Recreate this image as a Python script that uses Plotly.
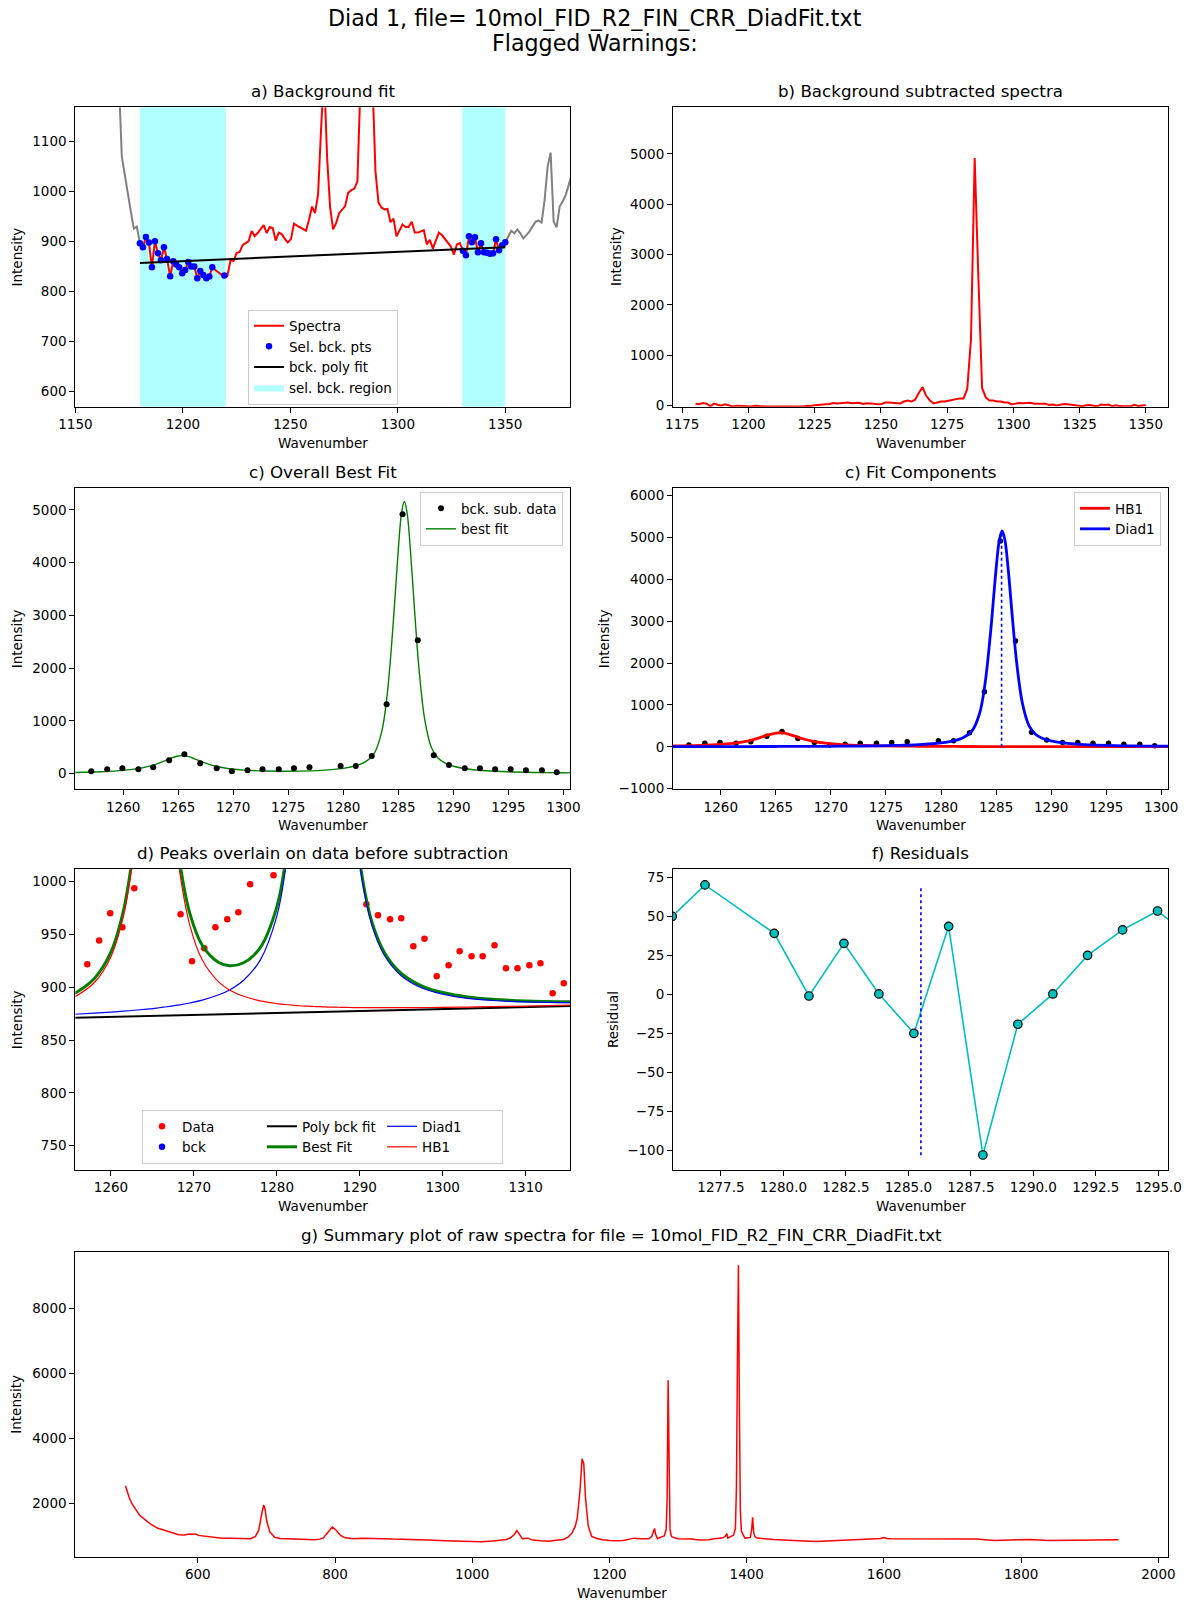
import plotly.graph_objects as go

FONT = "DejaVu Sans"
FIG_W, FIG_H = 1189, 1605
TICK_SIZE = 13.5
TITLE_SIZE = 16.7

# ---------------- a) Background fit ----------------
wn_a = [1180.0, 1181.4, 1182.8, 1184.2, 1185.6, 1187.0, 1188.4, 1189.8, 1191.2, 1192.6,
        1194.1, 1195.5, 1196.9, 1198.3, 1199.7, 1201.1, 1202.5, 1203.9, 1205.3, 1206.7,
        1208.1, 1209.5, 1210.9, 1212.3, 1213.7, 1215.1, 1216.5, 1217.9, 1219.3, 1220.7,
        1222.2, 1223.6, 1225.0, 1226.4, 1227.8, 1229.2, 1230.6, 1232.0, 1233.4, 1234.8,
        1236.2, 1237.6, 1239.0, 1240.4, 1241.8, 1243.2, 1244.6, 1246.0, 1247.4, 1248.8,
        1250.3, 1251.7, 1253.1, 1254.5, 1255.9, 1257.3, 1258.7, 1260.1, 1261.5, 1262.9,
        1264.3, 1265.7, 1267.1, 1268.5, 1269.9, 1271.3, 1272.7, 1274.1, 1275.5, 1276.9,
        1278.4, 1279.8, 1281.2, 1282.6, 1284.0, 1285.4, 1286.8, 1288.2, 1289.6, 1291.0,
        1292.4, 1293.8, 1295.2, 1296.6, 1298.0, 1299.4, 1300.8, 1302.2, 1303.6, 1305.0,
        1306.5, 1307.9, 1309.3, 1310.7, 1312.1, 1313.5, 1314.9, 1316.3, 1317.7, 1319.1,
        1320.5, 1321.9, 1323.3, 1324.7, 1326.1, 1327.5, 1328.9, 1330.3, 1331.7, 1333.1,
        1334.5, 1335.9, 1337.3, 1338.7, 1340.1, 1341.5, 1342.9, 1344.3, 1345.7, 1347.1,
        1348.6, 1350.0]
raw_a = [896.7, 888.7, 909.3, 898.0, 848.7, 900.7, 876.7, 862.7, 888.7, 865.3,
         830.7, 860.7, 854.0, 848.7, 836.7, 843.3, 859.3, 850.0, 850.0, 826.7,
         841.3, 833.3, 826.7, 830.0, 848.7, 843.0, 838.0, 834.0, 832.0, 831.0,
         863.0, 861.0, 877.0, 879.0, 893.0, 897.0, 901.0, 921.0, 911.0, 917.0,
         924.0, 933.0, 917.0, 929.0, 927.0, 902.0, 918.0, 915.0, 906.0, 898.0,
         905.0, 936.0, 932.0, 928.0, 924.0, 921.7, 944.4, 970.0, 956.8, 993.7,
         1125, 1240, 1069, 969.1, 924.6, 936.9, 956.8, 964.3, 971.0, 997.5,
         1003, 1006, 1020.5, 1211, 2191, 5794, 3404, 1225, 1041, 978.5,
         968.1, 964.3, 965.3, 938.8, 946.0, 910.4, 920.8, 934.0, 929.3, 929.3,
         939.7, 917.9, 917.9, 920.8, 922.7, 894.3, 903.7, 886.0, 903.0, 918.0,
         913.0, 905.0, 896.0, 890.0, 874.0, 894.0, 897.0, 881.8, 872.5, 910.5,
         898.5, 908.5, 878.5, 896.5, 878.5, 877.8, 875.8, 876.5, 904.5, 882.5,
         892.5, 898.5]
gray_left_x = [1167.4, 1168.8, 1170.2, 1171.6, 1173.0, 1174.4, 1175.8, 1177.2, 1178.6, 1180.0]
gray_left_y = [1380, 1300, 1224, 1070, 1030, 1000, 960, 926, 930, 896.7]
gray_right_x = [1350.0, 1351.4, 1352.8, 1354.2, 1355.6, 1357.0, 1358.4, 1359.8, 1361.2, 1362.6,
                1364.1, 1365.5, 1366.9, 1368.3, 1369.7, 1371.1, 1372.5, 1373.9, 1375.3, 1376.7,
                1378.1, 1379.5, 1380.9]
gray_right_y = [898.5, 909.7, 921.7, 916.5, 924.5, 916.5, 906.5, 913.0, 919.8, 929.9,
                939.8, 941.9, 937.9, 983.0, 1050.0, 1078.0, 940.0, 928.6, 970.0, 980.0,
                993.0, 1013.0, 1035.0]
bck_regions = [(1180, 1220), (1330, 1350)]
bck_idx = list(range(0, 25)) + [28] + list(range(107, 122))
poly_x = [1180, 1350]
poly_y = [857.3, 888.6]

# ---------------- b) Background subtracted ----------------
bsub_a = [39, 31, 51, 40, -10, 42, 18, 4, 29, 6,
          -15, 1, -6, -12, -15, -15, -2, -12, -12, -18,
          -15, -15, -18, -17, -15, -15, -15, -15, -16, -17,
          -2, -4, 11, 13, 27, 31, 34, 54, 44, 50,
          56, 65, 49, 61, 58, 33, 49, 46, 36, 28,
          35, 65, 61, 57, 53, 44, 82, 101, 82, 120,
          253, 367, 196, 101, 44, 63, 82, 82, 101, 120,
          128, 145, 145, 335, 1315, 4918, 2528, 348, 164, 101,
          101, 82, 82, 63, 63, 25, 41, 54, 49, 49,
          59, 37, 37, 39, 41, 12, 22, 4, 20, 35,
          30, 22, 12, 6, -10, 10, 12, -3, -13, 25,
          13, 22, -8, 10, -8, -9, -12, -11, 17, -6,
          4, 10]

# ---------------- c) Best fit / components ----------------
c_x = [1257.1, 1258.55, 1259.93, 1261.38, 1262.73, 1264.18, 1265.56, 1267.0, 1268.5, 1269.88,
       1271.3, 1272.66, 1274.14, 1275.52, 1276.93, 1279.76, 1281.14, 1282.59, 1283.94, 1285.39,
       1286.77, 1288.22, 1289.6, 1291.04, 1292.42, 1293.8, 1295.21, 1296.6, 1298.05, 1299.4]
c_y = [44, 82, 101, 82, 120, 253, 367, 196, 101, 44,
       63, 82, 82, 101, 120, 145, 145, 335, 1315, 4918,
       2528, 348, 164, 101, 101, 82, 82, 63, 63, 25]
fit_x = [1255.5, 1258, 1260, 1261.5, 1262.5, 1263.5, 1264.3, 1265.0, 1265.4, 1265.8,
         1266.5, 1267.3, 1268.3, 1269.5, 1271, 1273, 1274.3, 1276, 1278, 1280,
         1281, 1282, 1282.8, 1283.5, 1284.0, 1284.5, 1285.0, 1285.3, 1285.55, 1285.8,
         1286.1, 1286.5, 1286.9, 1287.4, 1288.0, 1288.6, 1289.3, 1290.2, 1291.5, 1293,
         1295, 1297.5, 1300, 1303, 1306, 1310, 1316]
hb1_fit = [19.1, 32.8, 57.0, 95.0, 140.6, 211.7, 282.1, 328.2, 334.9, 323.9,
           273.5, 203.4, 135.0, 85.1, 52.0, 30.5, 22.9, 16.5, 11.9, 8.9,
           7.8, 6.9, 6.3, 5.9, 5.6, 5.3, 5.0, 4.9, 4.8, 4.6,
           4.5, 4.3, 4.2, 4.0, 3.8, 3.6, 3.4, 3.2, 2.9, 2.6,
           2.2, 1.9, 1.6, 1.4, 1.2, 1.0, 0.8]
diad1_fit = [3.2, 3.9, 4.5, 5.1, 5.5, 6.0, 6.5, 6.9, 7.2, 7.5,
             8.1, 8.8, 9.8, 11.3, 13.8, 18.5, 22.9, 31.7, 50.4, 91.6,
             133.8, 214.5, 372, 795, 1513, 2732, 4241, 4941, 5155, 4941,
             4241, 3027, 1941, 1027, 498, 293, 193, 128, 80.1, 51.7,
             32.4, 20.4, 14.0, 9.6, 7.0, 4.9, 3.2]
best_fit = [22.3, 36.7, 61.5, 100.1, 146.1, 217.7, 288.6, 335.1, 342.1, 331.4,
            281.6, 212.2, 144.8, 96.4, 65.8, 49.0, 45.8, 48.2, 62.3, 100.5,
            141.6, 221.4, 378.3, 800.9, 1518.6, 2737.3, 4246.0, 4945.9, 5159.8, 4945.6,
            4245.5, 3031.3, 1945.2, 1031.0, 501.8, 296.6, 196.4, 131.2, 83.0, 54.3,
            34.6, 22.3, 15.6, 11.0, 8.2, 5.9, 4.0]
peak_pos = 1285.5
peak_height = 5155

# ---------------- d) Peaks on raw data ----------------
d_x = [1257.14, 1258.57, 1259.91, 1261.38, 1262.81, 1264.2, 1265.6, 1267.0, 1268.39, 1269.77,
       1271.25, 1272.59, 1274.02, 1275.36, 1276.78, 1279.6, 1281.0, 1282.4, 1283.8, 1285.2,
       1286.6, 1288.0, 1289.4, 1290.8, 1292.2, 1293.66, 1295.0, 1296.46, 1297.8, 1299.28,
       1300.71, 1302.05, 1303.48, 1304.82, 1306.25, 1307.63, 1309.02, 1310.45, 1311.79, 1313.26,
       1314.6]
d_y = [921.7, 944.4, 970.0, 956.8, 993.7, 1125, 1240, 1069, 969.1, 924.6,
       936.9, 956.8, 964.3, 971.0, 997.5, 1006.0, 1020.5, 1211, 2191, 5794,
       3404, 1225, 1041, 978.5, 968.1, 964.3, 965.3, 938.8, 946.0, 910.4,
       920.8, 934.0, 929.3, 929.3, 939.7, 917.9, 917.9, 920.8, 922.7, 894.3,
       903.7]
hb1_raw = [890.3, 904.5, 929.0, 967.3, 1013.1, 1084.4, 1154.9, 1201.1, 1207.9, 1197.0,
           1146.7, 1076.8, 1008.5, 958.9, 926.0, 904.9, 897.5, 891.5, 887.2, 884.6,
           883.7, 883.0, 882.5, 882.2, 882.0, 881.8, 881.6, 881.6, 881.5, 881.4,
           881.3, 881.2, 881.2, 881.1, 881.0, 880.9, 880.8, 880.8, 880.7, 880.7,
           880.7, 880.8, 881.0, 881.3, 881.7, 882.2, 883.1]
diad1_raw = [874.4, 875.6, 876.5, 877.4, 878.0, 878.7, 879.3, 879.8, 880.2, 880.6,
             881.3, 882.2, 883.3, 885.1, 887.8, 892.9, 897.5, 906.7, 925.7, 967.3,
             1009.7, 1090.6, 1248.2, 1671.3, 2389.4, 3608.5, 5117.6, 5817.7, 6031.7, 5817.8,
             5117.8, 3903.9, 2818.0, 1904.1, 1375.2, 1170.3, 1070.4, 1005.6, 957.9, 929.8,
             910.9, 899.3, 893.4, 889.5, 887.5, 886.1, 885.5]
best_raw = [893.5, 908.4, 933.5, 972.4, 1018.6, 1090.4, 1161.4, 1208.0, 1215.1, 1204.5,
            1154.8, 1085.6, 1018.3, 970.2, 939.8, 923.4, 920.4, 923.2, 937.6, 976.2,
            1017.5, 1097.5, 1254.5, 1677.2, 2395.0, 3613.8, 5122.6, 5822.6, 6036.5, 5822.4,
            5122.3, 3908.2, 2822.2, 1908.1, 1379.0, 1173.9, 1073.8, 1008.8, 960.8, 932.4,
            913.1, 901.2, 895.0, 890.9, 888.7, 887.1, 886.3]
poly_d_x = [1255.5, 1316]
poly_d_y = [871.2, 882.3]

# ---------------- f) Residuals ----------------
res_x = [1275.55, 1276.86, 1279.63, 1281.02, 1282.42, 1283.82, 1285.22, 1286.61, 1287.98,
         1289.38, 1290.78, 1292.17, 1293.57, 1294.97, 1296.37]
res_y = [50.0, 70.1, 39.1, -1.0, 32.7, 0.3, -24.9, 43.6, -102.8,
         -19.1, 0.3, 25.0, 41.3, 53.4, 36.0]
res_vline_y = [-103, 68]

# ---------------- g) Raw summary ----------------
g_x = [494.5, 497, 500, 504, 509, 515, 523, 532, 541, 552, 562, 572, 580, 588, 593, 597, 601,
       614, 625, 635, 648, 660, 670, 677, 684, 689, 693, 696, 698, 700.5, 705, 712, 720, 730,
       745, 760, 770, 778, 783, 790, 796, 801, 808, 815, 827, 840, 858, 870, 884, 900, 920,
       936, 960, 987, 1000, 1013, 1030, 1040, 1050, 1055, 1061, 1065, 1068, 1073, 1081, 1088,
       1100, 1112, 1125, 1133, 1140, 1145.5, 1150, 1153, 1157, 1160, 1162.5, 1165, 1169, 1174,
       1182, 1190, 1200, 1210, 1220, 1229, 1236, 1245, 1257, 1261.5, 1264.3, 1265.7, 1267.1,
       1269.9, 1274, 1279.8, 1282.6, 1284.0, 1285.4, 1286.8, 1288.2, 1289.6, 1291, 1300, 1310,
       1320, 1330, 1345.5, 1352, 1364, 1368.3, 1369.7, 1371.1, 1372.5, 1376.6, 1380.9, 1383.5,
       1385.0, 1386.5, 1387.9, 1389.3, 1390.7, 1392.2, 1397.4, 1405.2, 1407.2, 1408.6, 1410.2,
       1412, 1415.6, 1439, 1460, 1475, 1501, 1527, 1553, 1579, 1595, 1600, 1604, 1610, 1631,
       1657, 1683, 1709, 1735, 1761, 1787, 1813, 1839, 1865, 1891, 1917, 1942]
g_y = [2550, 2380, 2190, 2000, 1830, 1650, 1510, 1360, 1250, 1170, 1100, 1045, 1040, 1070, 1060,
       1070, 1025, 985, 960, 940, 935, 925, 920, 925, 990, 1200, 1670, 1960, 1830, 1460, 1130,
       965, 930, 920, 905, 895, 890, 910, 945, 1130, 1285, 1200, 1025, 950, 920, 935, 940, 925,
       910, 905, 890, 880, 860, 840, 830, 828, 850, 870, 900, 945, 1045, 1170, 1070, 925, 940,
       880, 860, 848, 880, 900, 980, 1100, 1300, 1560, 2390, 3380, 3230, 2190, 1310, 995, 930,
       890, 870, 858, 870, 920, 940, 920, 921, 990, 1125, 1240, 1069, 925, 964, 1006, 1211,
       2191, 5794, 3404, 1225, 1041, 978, 921, 921, 912, 882, 889, 923, 942, 985, 1050, 1078,
       940, 985, 1035, 1250, 2500, 6500, 9330, 5000, 1800, 1150, 941, 962, 1200, 1580, 1100,
       980, 941, 900, 870, 858, 838, 858, 889, 910, 930, 962, 930, 921, 921, 921, 900, 900, 910,
       869, 879, 900, 869, 879, 889, 900, 889]

FILE_NAME = "10mol_FID_R2_FIN_CRR_DiadFit.txt"

# ---------------- layout geometry ----------------
def px(v):
    return v / FIG_W


def py(v):
    return 1 - v / FIG_H


COL1 = (75.4, 570.4)
COL2 = (673.0, 1168.3)
FULL = (75.4, 1168.3)
ROWS = [(107.3, 406.7), (488.3, 789.3), (869.3, 1170.0), (1251.5, 1557.0)]

panels = {
    1: dict(col=COL1, row=ROWS[0], xr=[1150, 1380.3], yr=[569.4, 1168.8],
            xt=[1150, 1200, 1250, 1300, 1350], yt=[600, 700, 800, 900, 1000, 1100],
            title="a) Background fit", ylab="Intensity", ylx=16.5),
    2: dict(col=COL2, row=ROWS[0], xr=[1171.5, 1358.5], yr=[-20, 5925],
            xt=[1175, 1200, 1225, 1250, 1275, 1300, 1325, 1350], yt=[0, 1000, 2000, 3000, 4000, 5000],
            title="b) Background subtracted spectra", ylab="Intensity", ylx=616),
    3: dict(col=COL1, row=ROWS[1], xr=[1255.66, 1300.64], yr=[-297, 5411],
            xt=[1260, 1265, 1270, 1275, 1280, 1285, 1290, 1295, 1300], yt=[0, 1000, 2000, 3000, 4000, 5000],
            title="c) Overall Best Fit", ylab="Intensity", ylx=16.5),
    4: dict(col=COL2, row=ROWS[1], xr=[1255.66, 1300.64], yr=[-1016, 6175],
            xt=[1260, 1265, 1270, 1275, 1280, 1285, 1290, 1295, 1300],
            yt=[-1000, 0, 1000, 2000, 3000, 4000, 5000, 6000],
            title="c) Fit Components", ylab="Intensity", ylx=603.5),
    5: dict(col=COL1, row=ROWS[2], xr=[1255.71, 1315.4], yr=[727, 1011.7],
            xt=[1260, 1270, 1280, 1290, 1300, 1310], yt=[750, 800, 850, 900, 950, 1000],
            title="d) Peaks overlain on data before subtraction", ylab="Intensity", ylx=16.5),
    6: dict(col=COL2, row=ROWS[2], xr=[1275.58, 1295.40], yr=[-112.4, 80.1],
            xt=[1277.5, 1280, 1282.5, 1285, 1287.5, 1290, 1292.5, 1295],
            yt=[-100, -75, -50, -25, 0, 25, 50, 75],
            title="f) Residuals", ylab="Residual", ylx=612.4, xfmt=".1f"),
    7: dict(col=FULL, row=ROWS[3], xr=[421.6, 2014.4], yr=[360, 9757],
            xt=[600, 800, 1000, 1200, 1400, 1600, 1800, 2000], yt=[2000, 4000, 6000, 8000],
            title="g) Summary plot of raw spectra for file = " + FILE_NAME, ylab="Intensity", ylx=16.5),
}

fig = go.Figure()


def add(tr, n):
    s = "" if n == 1 else str(n)
    tr.update(xaxis="x" + s, yaxis="y" + s)
    fig.add_trace(tr)


# ---- a ----
ylim_a = panels[1]["yr"]
reg_x, reg_y = [], []
for lo, hi in bck_regions:
    reg_x += [lo, hi, hi, lo, lo, None]
    reg_y += [ylim_a[0], ylim_a[0], ylim_a[1], ylim_a[1], ylim_a[0], None]
add(go.Scatter(x=reg_x, y=reg_y, fill="toself", fillcolor="rgba(0,255,255,0.3)", mode="lines",
               line=dict(width=0), name="sel. bck. region", legend="legend", legendrank=4,
               hoverinfo="skip"), 1)
add(go.Scatter(x=gray_left_x + [None] + gray_right_x, y=gray_left_y + [None] + gray_right_y,
               mode="lines", line=dict(color="#808080", width=2), showlegend=False), 1)
add(go.Scatter(x=wn_a, y=raw_a, mode="lines", line=dict(color="red", width=2),
               name="Spectra", legend="legend", legendrank=1), 1)
bck_x = [wn_a[i] for i in bck_idx]
bck_y = [raw_a[i] for i in bck_idx]
add(go.Scatter(x=bck_x, y=bck_y, mode="markers", marker=dict(color="blue", size=6.5),
               name="Sel. bck. pts", legend="legend", legendrank=2), 1)
add(go.Scatter(x=poly_x, y=poly_y, mode="lines", line=dict(color="black", width=2),
               name="bck. poly fit", legend="legend", legendrank=3), 1)

# ---- b ----
add(go.Scatter(x=wn_a, y=bsub_a, mode="lines", line=dict(color="red", width=2), showlegend=False), 2)

# ---- c ----
add(go.Scatter(x=fit_x, y=best_fit, mode="lines", line=dict(color="#008000", width=1.4, shape="spline"),
               name="best fit", legend="legend2", legendrank=2), 3)
add(go.Scatter(x=c_x, y=c_y, mode="markers", marker=dict(color="black", size=6),
               name="bck. sub. data", legend="legend2", legendrank=1), 3)

# ---- c2 ----
add(go.Scatter(x=c_x, y=c_y, mode="markers", marker=dict(color="black", size=5.5), showlegend=False), 4)
add(go.Scatter(x=fit_x, y=hb1_fit, mode="lines", line=dict(color="red", width=2.8, shape="spline"),
               name="HB1", legend="legend3", legendrank=1), 4)
add(go.Scatter(x=fit_x, y=diad1_fit, mode="lines", line=dict(color="blue", width=2.8, shape="spline"),
               name="Diad1", legend="legend3", legendrank=2), 4)
add(go.Scatter(x=[peak_pos, peak_pos], y=[0, peak_height], mode="lines",
               line=dict(color="blue", width=1.6, dash="dot"), showlegend=False), 4)

# ---- d ----
add(go.Scatter(x=d_x, y=d_y, mode="markers", marker=dict(color="red", size=6.5),
               name="Data", legend="legend4", legendgroup="g1"), 5)
add(go.Scatter(x=bck_x, y=bck_y, mode="markers", marker=dict(color="blue", size=6.5),
               name="bck", legend="legend4", legendgroup="g1"), 5)
add(go.Scatter(x=poly_d_x, y=poly_d_y, mode="lines", line=dict(color="black", width=2),
               name="Poly bck fit", legend="legend4", legendgroup="g2"), 5)
add(go.Scatter(x=fit_x, y=best_raw, mode="lines", line=dict(color="#008000", width=3, shape="spline"),
               name="Best Fit", legend="legend4", legendgroup="g2"), 5)
add(go.Scatter(x=fit_x, y=diad1_raw, mode="lines", line=dict(color="blue", width=1.2, shape="spline"),
               name="Diad1", legend="legend4", legendgroup="g3"), 5)
add(go.Scatter(x=fit_x, y=hb1_raw, mode="lines", line=dict(color="red", width=1.2, shape="spline"),
               name="HB1", legend="legend4", legendgroup="g3"), 5)

# ---- f ----
add(go.Scatter(x=res_x, y=res_y, mode="lines+markers", line=dict(color="#00BFBF", width=1.6),
               marker=dict(color="#00BFBF", size=8.5, line=dict(color="black", width=1.2)),
               showlegend=False), 6)
add(go.Scatter(x=[peak_pos, peak_pos], y=res_vline_y, mode="lines",
               line=dict(color="blue", width=1.6, dash="dot"), showlegend=False), 6)

# ---- g ----
add(go.Scatter(x=g_x, y=g_y, mode="lines", line=dict(color="red", width=1.5), showlegend=False), 7)

# ---------------- axes ----------------
layout = dict(width=FIG_W, height=FIG_H, margin=dict(l=0, r=0, t=0, b=0, autoexpand=False),
              paper_bgcolor="white", plot_bgcolor="white", showlegend=True,
              font=dict(family=FONT, size=TICK_SIZE, color="black"))
annotations = []
for n, p in panels.items():
    s = "" if n == 1 else str(n)
    common = dict(showline=True, linecolor="black", linewidth=1.1, mirror=True,
                  ticks="outside", ticklen=5, tickwidth=1.1, tickcolor="black",
                  showgrid=False, zeroline=False, automargin=False,
                  tickfont=dict(family=FONT, size=TICK_SIZE, color="black"))
    xa = dict(common, domain=[px(p["col"][0]), px(p["col"][1])], anchor="y" + s,
              range=p["xr"], tickmode="array", tickvals=p["xt"])
    if "xfmt" in p:
        xa["tickformat"] = p["xfmt"]
    ya = dict(common, domain=[py(p["row"][1]), py(p["row"][0])], anchor="x" + s,
              range=p["yr"], tickmode="array", tickvals=p["yt"])
    layout["xaxis" + s] = xa
    layout["yaxis" + s] = ya
    cx = (p["col"][0] + p["col"][1]) / 2
    cy = (p["row"][0] + p["row"][1]) / 2
    annotations.append(dict(text=p["title"], x=px(cx), y=py(p["row"][0] - 16), xref="paper", yref="paper",
                            xanchor="center", yanchor="middle", showarrow=False,
                            font=dict(family=FONT, size=TITLE_SIZE, color="black")))
    annotations.append(dict(text="Wavenumber", x=px(cx), y=py(p["row"][1] + 36), xref="paper", yref="paper",
                            xanchor="center", yanchor="middle", showarrow=False,
                            font=dict(family=FONT, size=TICK_SIZE, color="black")))
    annotations.append(dict(text=p["ylab"], x=px(p["ylx"]), y=py(cy), xref="paper", yref="paper",
                            xanchor="center", yanchor="middle", textangle=-90, showarrow=False,
                            font=dict(family=FONT, size=TICK_SIZE, color="black")))

annotations.append(dict(text="Diad 1, file= " + FILE_NAME, x=0.5, y=py(18.5), xref="paper", yref="paper",
                        xanchor="center", yanchor="middle", showarrow=False,
                        font=dict(family=FONT, size=22.2, color="black")))
annotations.append(dict(text="Flagged Warnings:", x=0.5, y=py(43), xref="paper", yref="paper",
                        xanchor="center", yanchor="middle", showarrow=False,
                        font=dict(family=FONT, size=22.2, color="black")))
layout["annotations"] = annotations

leg_common = dict(bgcolor="rgba(255,255,255,0.8)", bordercolor="#cccccc", borderwidth=1,
                  font=dict(family=FONT, size=TICK_SIZE, color="black"), itemwidth=30,
                  tracegroupgap=0)
layout["legend"] = dict(leg_common, x=px(323), xanchor="center", y=py(404.5), yanchor="bottom")
layout["legend2"] = dict(leg_common, x=px(563), xanchor="right", y=py(492), yanchor="top")
layout["legend3"] = dict(leg_common, x=px(1161), xanchor="right", y=py(492), yanchor="top")
layout["legend4"] = dict(leg_common, x=px(322.5), xanchor="center", y=py(1164), yanchor="bottom",
                         orientation="h", traceorder="grouped", entrywidth=75)

fig.update_layout(**layout)
fig.write_html("out.html")
